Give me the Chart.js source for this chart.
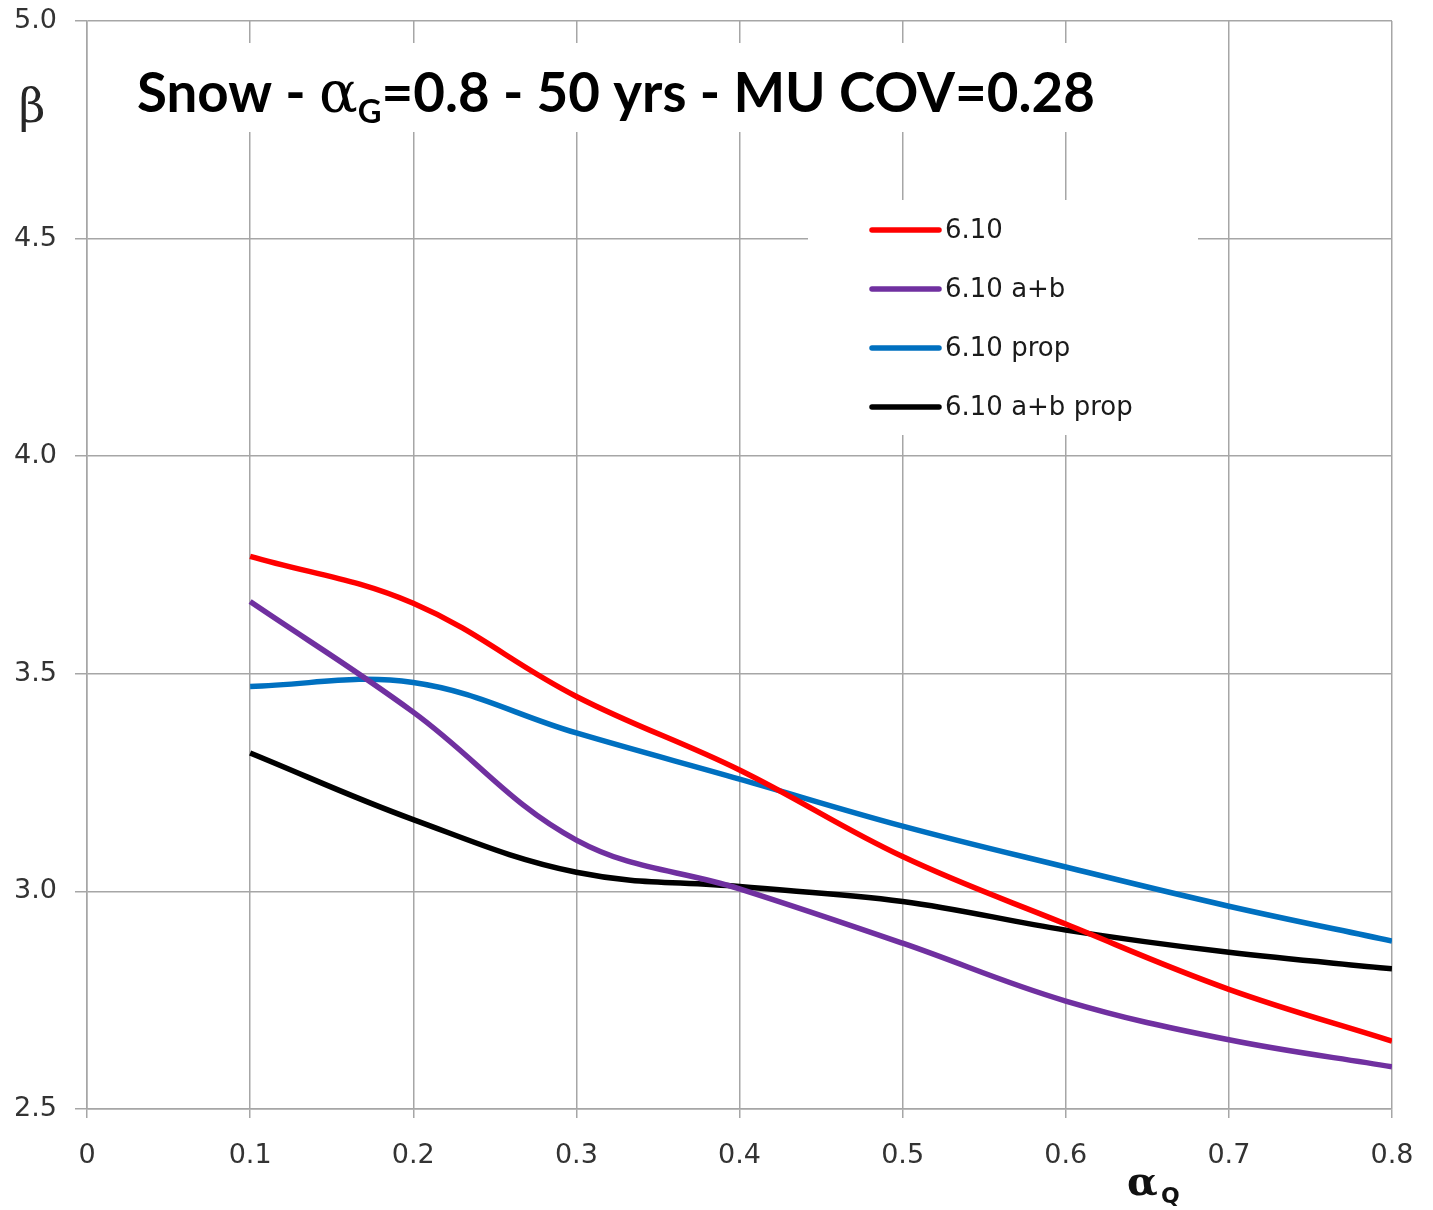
<!DOCTYPE html>
<html><head><meta charset="utf-8">
<script src="https://cdn.jsdelivr.net/npm/chart.js@4/dist/chart.umd.min.js"></script>
<style>html,body{margin:0;padding:0;background:#fff}#wrap{width:1433px;height:1210px;position:relative}</style>
</head><body><div id="wrap"><canvas id="c" width="1433" height="1210"></canvas></div>
<script>
const xValues = [0.1, 0.2, 0.3, 0.4, 0.5, 0.6, 0.7, 0.8];
const s610 = [3.770, 3.662, 3.448, 3.279, 3.080, 2.925, 2.775, 2.656];
const s610ab = [3.666, 3.412, 3.118, 3.006, 2.881, 2.748, 2.659, 2.597];
const s610prop = [3.471, 3.480, 3.364, 3.258, 3.150, 3.056, 2.966, 2.886];
const s610abprop = [3.318, 3.165, 3.044, 3.011, 2.977, 2.911, 2.860, 2.822];
const seriesLabels = ['6.10', '6.10 a+b', '6.10 prop', '6.10 a+b prop'];
const seriesColors = ['#ff0000', '#7030a0', '#0070c0', '#000000'];
const xTickLabels = ['0', '0.1', '0.2', '0.3', '0.4', '0.5', '0.6', '0.7', '0.8'];
const yTickLabels = ['2.5', '3.0', '3.5', '4.0', '4.5', '5.0'];

const allSeries = [s610, s610ab, s610prop, s610abprop];
const datasets = allSeries.map((arr, i) => ({
  label: seriesLabels[i],
  data: arr.map((v, j) => ({x: xValues[j], y: v})),
  borderColor: seriesColors[i],
  backgroundColor: seriesColors[i],
  borderWidth: 5.5,
  pointRadius: 0,
  tension: 0.38,
  fill: false
}));

const GRID = '#a6a6a6';
const TICKC = '#333333';

const overlay = {
  id: 'overlay',
  beforeDatasetsDraw(chart) {
    const ctx = chart.ctx;
    ctx.save();
    ctx.fillStyle = '#fff';
    ctx.fillRect(125, 43, 985, 89);
    ctx.fillRect(808, 200, 390, 235);
    const base = 100;
    const parts = [
      {t: 'Snow - ', f: s => `bold ${s}px Lato`, dy: 0},
      {t: 'α', f: s => `${s * 1.05}px "DejaVu Serif"`, dy: 0},
      {t: 'G', f: s => `bold ${s * 0.6}px Lato`, dy: 0.2},
      {t: '=0.8 - 50 yrs - MU COV=0.28', f: s => `bold ${s}px Lato`, dy: 0}
    ];
    let w = 0;
    parts.forEach(p => { ctx.font = p.f(base); w += ctx.measureText(p.t).width; });
    const size = base * 958 / w;
    let x = 137;
    const by = 112;
    ctx.fillStyle = '#000';
    ctx.textBaseline = 'alphabetic';
    ctx.textAlign = 'left';
    parts.forEach(p => {
      ctx.font = p.f(size);
      ctx.fillText(p.t, x, by + p.dy * size);
      x += ctx.measureText(p.t).width;
    });
    ctx.font = '26px "DejaVu Sans"';
    ctx.textBaseline = 'middle';
    seriesLabels.forEach((lab, i) => {
      const y = 230 + i * 59;
      ctx.strokeStyle = seriesColors[i];
      ctx.lineWidth = 5.5;
      ctx.lineCap = 'round';
      ctx.beginPath();
      ctx.moveTo(872, y);
      ctx.lineTo(939, y);
      ctx.stroke();
      ctx.fillStyle = '#1a1a1a';
      ctx.fillText(lab, 945, y + 1);
    });
    ctx.restore();
  },
  afterDraw(chart) {
    const ctx = chart.ctx;
    ctx.save();
    ctx.fillStyle = '#262626';
    ctx.textAlign = 'center';
    ctx.textBaseline = 'alphabetic';
    ctx.font = '46px "DejaVu Serif"';
    ctx.fillText('β', 32, 122);
    ctx.textAlign = 'left';
    ctx.fillStyle = '#111';
    ctx.font = 'bold 40px "DejaVu Serif"';
    ctx.fillText('α', 1127, 1195);
    ctx.font = 'bold 22px "DejaVu Sans"';
    ctx.fillText('Q', 1161, 1203);
    ctx.restore();
  }
};

new Chart(document.getElementById('c'), {
  type: 'line',
  data: {datasets},
  options: {
    responsive: false,
    animation: false,
    layout: {padding: {top: 21, right: 41, left: 0, bottom: 0}},
    plugins: {legend: {display: false}, tooltip: {enabled: false}, title: {display: false}},
    scales: {
      x: {
        type: 'linear', min: 0, max: 0.8,
        afterFit: s => { s.height = 101; s.paddingLeft = 0; s.paddingRight = 0; },
        afterBuildTicks: s => { s.ticks = xTickLabels.map(v => ({value: parseFloat(v)})); },
        ticks: {
          callback: (v, i) => xTickLabels[i],
          font: {family: 'DejaVu Sans', size: 27}, color: TICKC, padding: 22, maxRotation: 0, autoSkip: false
        },
        grid: {color: GRID, lineWidth: 1.5, tickLength: 9, tickColor: GRID},
        border: {color: GRID, width: 1.5}
      },
      y: {
        min: 2.5, max: 5.0,
        afterFit: s => { s.width = 87; s.paddingTop = 0; s.paddingBottom = 0; },
        afterBuildTicks: s => { s.ticks = yTickLabels.map(v => ({value: parseFloat(v)})); },
        ticks: {
          callback: (v, i) => yTickLabels[i],
          font: {family: 'DejaVu Sans', size: 27}, color: TICKC, padding: 18
        },
        grid: {color: GRID, lineWidth: 1.5, tickLength: 12, tickColor: GRID},
        border: {color: GRID, width: 1.5}
      }
    }
  },
  plugins: [overlay]
});
</script></body></html>
